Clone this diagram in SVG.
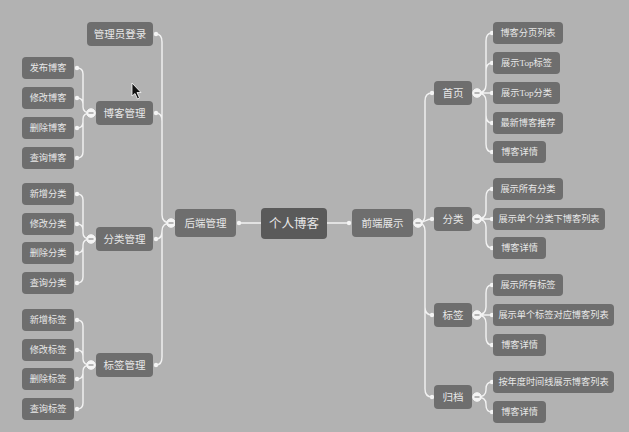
<svg xmlns="http://www.w3.org/2000/svg" width="629" height="432" viewBox="0 0 629 432">
<style>
.bg{fill:#b2b2b2}
.n{fill:#6e6e6e}
.c{fill:#5a5a5a}
.t{fill:#e8e8e8;font-family:"Liberation Serif","Noto Sans CJK SC",serif;font-size:9.2px;text-anchor:middle;dominant-baseline:central}
.tp{font-size:10.5px}
.tc{font-size:12.5px}
.ln{fill:none;stroke:#f2f2f2;stroke-width:1.4}
.dot{fill:#f4f4f4}
.col{fill:#f4f4f4;stroke:#f4f4f4;stroke-width:1}
.minus{stroke:#8a8a8a;stroke-width:1.2}
</style>
<rect class="bg" x="0" y="0" width="629" height="432"/>
<g id="connectors">
<path class="ln" d="M239,223 L261,223 M327,223 L349,223"/>
<path class="ln" d="M91,113 Q83,113 83,107 L83,74 Q83,68 77,68 M91,113 Q83,113 83,107 L83,104 Q83,98 77,98 M91,113 Q83,113 83,119 L83,122 Q83,128 77,128 M91,113 Q83,113 83,119 L83,152 Q83,158 77,158"/>
<path class="ln" d="M91,239 Q83,239 83,233 L83,200 Q83,194 77,194 M91,239 Q83,239 83,233 L83,230 Q83,224 77,224 M91,239 Q83,239 83,245 L83,247 Q83,253 77,253 M91,239 Q83,239 83,245 L83,277 Q83,283 77,283"/>
<path class="ln" d="M91,365 Q83,365 83,359 L83,326 Q83,320 77,320 M91,365 Q83,365 83,359 L83,356 Q83,350 77,350 M91,365 Q83,365 83,371 L83,373 Q83,379 77,379 M91,365 Q83,365 83,371 L83,403 Q83,409 77,409"/>
<path class="ln" d="M171,223 Q162,223 162,215 L162,42 Q162,34 156,34 M171,223 Q162,223 162,215 L162,121 Q162,113 156,113 M171,223 Q162,223 162,231 Q162,239 156,239 M171,223 Q162,223 162,231 L162,357 Q162,365 156,365"/>
<path class="ln" d="M418,223 Q425,223 425,215 L425,101 Q425,93 432,93 M418,223 C425,223 425,219 432,219 M418,223 Q425,223 425,231 L425,307 Q425,315 432,315 M418,223 Q425,223 425,231 L425,389 Q425,397 432,397"/>
<path class="ln" d="M477,93 Q486,93 486,85 L486,41 Q486,33 492,33 M477,93 Q486,93 486,85 L486,71 Q486,63 492,63 M477,93 L492,93 M477,93 Q486,93 486,101 L486,115 Q486,123 492,123 M477,93 Q486,93 486,101 L486,144 Q486,152 492,152"/>
<path class="ln" d="M477,219 Q486,219 486,211 L486,197 Q486,189 492,189 M477,219 L492,219 M477,219 Q486,219 486,227 L486,240 Q486,248 492,248"/>
<path class="ln" d="M477,315 Q486,315 486,307 L486,293 Q486,285 492,285 M477,315 L492,315 M477,315 Q486,315 486,323 L486,337 Q486,345 492,345"/>
<path class="ln" d="M477,397 Q486,397 486,390 L486,389 Q486,382 492,382 M477,397 Q486,397 486,404 L486,405 Q486,412 492,412"/>
<g>
<circle class="dot" cx="239" cy="223" r="2.2"/><circle class="dot" cx="349" cy="223" r="2.2"/>
<circle class="dot" cx="77" cy="68" r="2.2"/><circle class="dot" cx="77" cy="98" r="2.2"/><circle class="dot" cx="77" cy="128" r="2.2"/><circle class="dot" cx="77" cy="158" r="2.2"/>
<circle class="dot" cx="77" cy="194" r="2.2"/><circle class="dot" cx="77" cy="224" r="2.2"/><circle class="dot" cx="77" cy="253" r="2.2"/><circle class="dot" cx="77" cy="283" r="2.2"/>
<circle class="dot" cx="77" cy="320" r="2.2"/><circle class="dot" cx="77" cy="350" r="2.2"/><circle class="dot" cx="77" cy="379" r="2.2"/><circle class="dot" cx="77" cy="409" r="2.2"/>
<circle class="dot" cx="156" cy="34" r="2.2"/><circle class="dot" cx="156" cy="113" r="2.2"/><circle class="dot" cx="156" cy="239" r="2.2"/><circle class="dot" cx="156" cy="365" r="2.2"/>
<circle class="dot" cx="432" cy="93" r="2.2"/><circle class="dot" cx="432" cy="219" r="2.2"/><circle class="dot" cx="432" cy="315" r="2.2"/><circle class="dot" cx="432" cy="397" r="2.2"/>
<circle class="dot" cx="492" cy="33" r="2.2"/><circle class="dot" cx="492" cy="63" r="2.2"/><circle class="dot" cx="492" cy="93" r="2.2"/><circle class="dot" cx="492" cy="123" r="2.2"/><circle class="dot" cx="492" cy="152" r="2.2"/>
<circle class="dot" cx="492" cy="189" r="2.2"/><circle class="dot" cx="492" cy="219" r="2.2"/><circle class="dot" cx="492" cy="248" r="2.2"/>
<circle class="dot" cx="492" cy="285" r="2.2"/><circle class="dot" cx="492" cy="315" r="2.2"/><circle class="dot" cx="492" cy="345" r="2.2"/>
<circle class="dot" cx="492" cy="382" r="2.2"/><circle class="dot" cx="492" cy="412" r="2.2"/>
</g>
<g>
<circle class="col" cx="91" cy="113" r="4.3"/><path class="minus" d="M88.5,113 H93.5"/>
<circle class="col" cx="91" cy="239" r="4.3"/><path class="minus" d="M88.5,239 H93.5"/>
<circle class="col" cx="91" cy="365" r="4.3"/><path class="minus" d="M88.5,365 H93.5"/>
<circle class="col" cx="171" cy="223" r="4.3"/><path class="minus" d="M168.5,223 H173.5"/>
<circle class="col" cx="418" cy="223" r="4.3"/><path class="minus" d="M415.5,223 H420.5"/>
<circle class="col" cx="477" cy="93" r="4.3"/><path class="minus" d="M474.5,93 H479.5"/>
<circle class="col" cx="477" cy="219" r="4.3"/><path class="minus" d="M474.5,219 H479.5"/>
<circle class="col" cx="477" cy="315" r="4.3"/><path class="minus" d="M474.5,315 H479.5"/>
<circle class="col" cx="477" cy="397" r="4.3"/><path class="minus" d="M474.5,397 H479.5"/>
</g>
</g>
<g id="root"><rect class="c" x="261" y="208" width="66" height="31" rx="4"/><text class="t tc" x="294" y="223.5">个人博客</text></g>
<g id="backend"><rect class="n" x="175" y="209" width="61" height="28" rx="4"/><text class="t tp" x="205.5" y="223">后端管理</text></g>
<g id="frontend"><rect class="n" x="352" y="209" width="61" height="28" rx="4"/><text class="t tp" x="382.5" y="223">前端展示</text></g>
<g id="admin-login"><rect class="n" x="87" y="22" width="66" height="24" rx="4"/><text class="t tp" x="120" y="34">管理员登录</text></g>
<g id="blog-mgmt"><rect class="n" x="96" y="101" width="57" height="24" rx="4"/><text class="t tp" x="124.5" y="113">博客管理</text></g>
<g id="cat-mgmt"><rect class="n" x="96" y="227" width="57" height="24" rx="4"/><text class="t tp" x="124.5" y="239">分类管理</text></g>
<g id="tag-mgmt"><rect class="n" x="96" y="353" width="57" height="24" rx="4"/><text class="t tp" x="124.5" y="365">标签管理</text></g>
<g id="blog-add"><rect class="n" x="22" y="57" width="52" height="22" rx="4"/><text class="t" x="48" y="68">发布博客</text></g>
<g id="blog-edit"><rect class="n" x="22" y="87" width="52" height="22" rx="4"/><text class="t" x="48" y="98">修改博客</text></g>
<g id="blog-del"><rect class="n" x="22" y="117" width="52" height="22" rx="4"/><text class="t" x="48" y="128">删除博客</text></g>
<g id="blog-query"><rect class="n" x="22" y="147" width="52" height="22" rx="4"/><text class="t" x="48" y="158">查询博客</text></g>
<g id="cat-add"><rect class="n" x="22" y="183" width="52" height="22" rx="4"/><text class="t" x="48" y="194">新增分类</text></g>
<g id="cat-edit"><rect class="n" x="22" y="213" width="52" height="22" rx="4"/><text class="t" x="48" y="224">修改分类</text></g>
<g id="cat-del"><rect class="n" x="22" y="242" width="52" height="22" rx="4"/><text class="t" x="48" y="253">删除分类</text></g>
<g id="cat-query"><rect class="n" x="22" y="272" width="52" height="22" rx="4"/><text class="t" x="48" y="283">查询分类</text></g>
<g id="tag-add"><rect class="n" x="22" y="309" width="52" height="22" rx="4"/><text class="t" x="48" y="320">新增标签</text></g>
<g id="tag-edit"><rect class="n" x="22" y="339" width="52" height="22" rx="4"/><text class="t" x="48" y="350">修改标签</text></g>
<g id="tag-del"><rect class="n" x="22" y="368" width="52" height="22" rx="4"/><text class="t" x="48" y="379">删除标签</text></g>
<g id="tag-query"><rect class="n" x="22" y="398" width="52" height="22" rx="4"/><text class="t" x="48" y="409">查询标签</text></g>
<g id="home"><rect class="n" x="434" y="81" width="38" height="24" rx="4"/><text class="t tp" x="453" y="93">首页</text></g>
<g id="category"><rect class="n" x="434" y="207" width="38" height="24" rx="4"/><text class="t tp" x="453" y="219">分类</text></g>
<g id="tag"><rect class="n" x="434" y="303" width="38" height="24" rx="4"/><text class="t tp" x="453" y="315">标签</text></g>
<g id="archive"><rect class="n" x="434" y="385" width="38" height="24" rx="4"/><text class="t tp" x="453" y="397">归档</text></g>
<g id="home-list"><rect class="n" x="493" y="22" width="70" height="22" rx="4"/><text class="t" x="528" y="33">博客分页列表</text></g>
<g id="home-toptag"><rect class="n" x="493" y="52" width="67" height="22" rx="4"/><text class="t" x="526.5" y="63">展示Top标签</text></g>
<g id="home-topcat"><rect class="n" x="493" y="82" width="67" height="22" rx="4"/><text class="t" x="526.5" y="93">展示Top分类</text></g>
<g id="home-latest"><rect class="n" x="493" y="112" width="70" height="22" rx="4"/><text class="t" x="528" y="123">最新博客推荐</text></g>
<g id="home-detail"><rect class="n" x="493" y="141" width="53" height="22" rx="4"/><text class="t" x="519.5" y="152">博客详情</text></g>
<g id="cat-all"><rect class="n" x="493" y="178" width="70" height="22" rx="4"/><text class="t" x="528" y="189">展示所有分类</text></g>
<g id="cat-list"><rect class="n" x="493" y="208" width="112" height="22" rx="4"/><text class="t" x="549" y="219">展示单个分类下博客列表</text></g>
<g id="cat-detail"><rect class="n" x="493" y="237" width="53" height="22" rx="4"/><text class="t" x="519.5" y="248">博客详情</text></g>
<g id="tag-all"><rect class="n" x="493" y="274" width="70" height="22" rx="4"/><text class="t" x="528" y="285">展示所有标签</text></g>
<g id="tag-list"><rect class="n" x="493" y="304" width="121" height="22" rx="4"/><text class="t" x="553.5" y="315">展示单个标签对应博客列表</text></g>
<g id="tag-detail"><rect class="n" x="493" y="334" width="53" height="22" rx="4"/><text class="t" x="519.5" y="345">博客详情</text></g>
<g id="arch-list"><rect class="n" x="493" y="371" width="121" height="22" rx="4"/><text class="t" x="553.5" y="382">按年度时间线展示博客列表</text></g>
<g id="arch-detail"><rect class="n" x="493" y="401" width="53" height="22" rx="4"/><text class="t" x="519.5" y="412">博客详情</text></g>
<path d="M132,83 L132,96 L135,93.5 L137.5,99 L139.5,98 L137,92.5 L141,92.5 Z" fill="#111" stroke="#fff" stroke-width="0.8"/>
</svg>
